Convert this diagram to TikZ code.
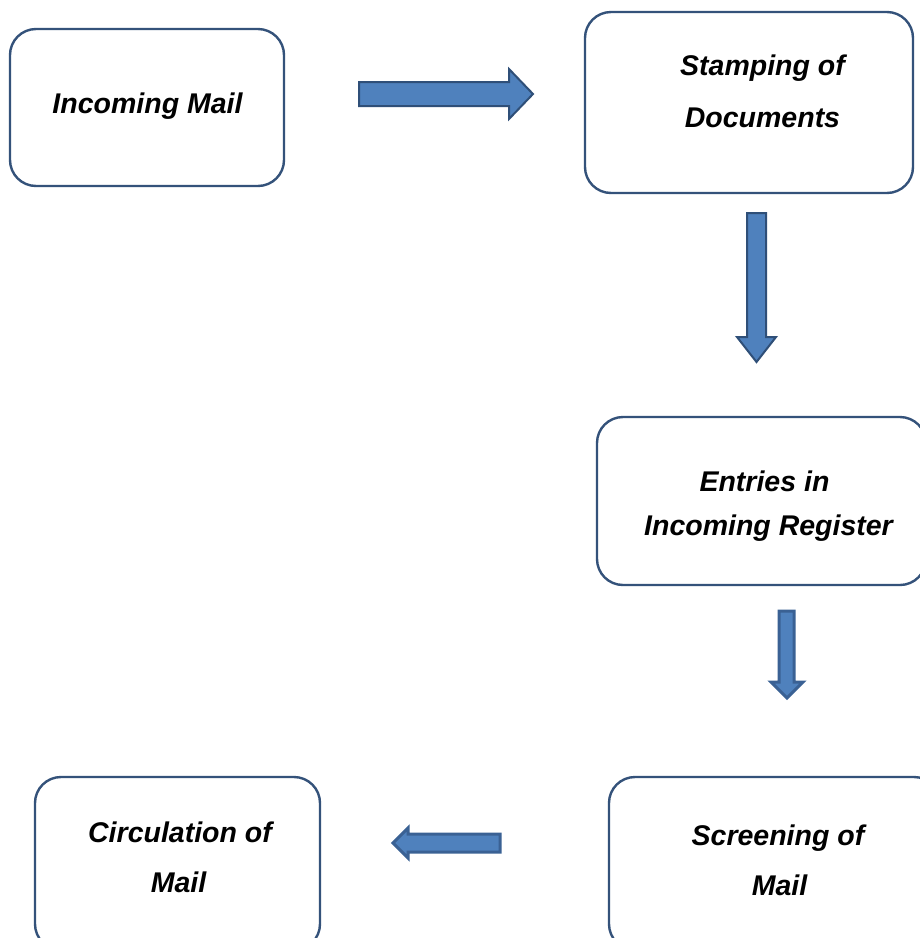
\documentclass[tikz,border=0pt]{standalone}
\usepackage{fontspec}
\setmainfont{Liberation Sans}
\begin{document}
\begin{tikzpicture}[x=1pt,y=-1pt,
  stagebox/.style={draw=boxline, line width=2.4pt, rounded corners=26pt,
    rectangle, inner sep=0pt, fill=white},
  lbl/.style={font=\fontsize{28.5}{34}\selectfont\bfseries\itshape, inner sep=0pt, anchor=base},
  blockarrow/.style={fill=arrowfill, draw=arrowline, line width=2pt, line join=miter},
  heavyarrow/.style={blockarrow, line width=3pt, draw=arrowdark}]
\definecolor{boxline}{HTML}{34527A}
\definecolor{arrowfill}{HTML}{4F81BD}
\definecolor{arrowline}{HTML}{2F4F78}
\definecolor{arrowdark}{HTML}{3A6194}

\useasboundingbox (0,0) rectangle (920,938);
\fill[white] (0,0) rectangle (920,938);

\begin{scope}
\clip (0,0) rectangle (920,938);

% process stages
\node[stagebox, minimum width=274pt, minimum height=157pt] (inmail) at (147,107.5) {};
\node[stagebox, minimum width=328pt, minimum height=181pt] (stamp) at (749,102.5) {};
\node[stagebox, minimum width=329pt, minimum height=168pt] (entries) at (761.5,501) {};
\node[stagebox, minimum width=331pt, minimum height=173pt] (screen) at (774.5,863.5) {};
\node[stagebox, minimum width=285pt, minimum height=173pt] (circ) at (177.5,863.5) {};

% stage labels
\node[lbl] (inmailA) at (147.5,113) {Incoming Mail};
\node[lbl] (stampA) at (762.5,75) {Stamping of};
\node[lbl] (stampB) at (762.5,127) {Documents};
\node[lbl] (entriesA) at (764.5,491) {Entries in};
\node[lbl] (entriesB) at (768.5,535) {Incoming Register};
\node[lbl] (screenA) at (778,845) {Screening of};
\node[lbl] (screenB) at (779.5,895) {Mail};
\node[lbl] (circA) at (180,842) {Circulation of};
\node[lbl] (circB) at (178.5,892) {Mail};

% block arrows between stages
\draw[blockarrow] (359,82) -- (509,82) -- (509,69) -- (533,94) -- (509,119)
  -- (509,106) -- (359,106) -- cycle;
\draw[blockarrow] (747,213) -- (766,213) -- (766,337) -- (776,337) -- (756.5,362)
  -- (737,337) -- (747,337) -- cycle;
\draw[heavyarrow] (779,611) -- (794,611) -- (794,682) -- (803,682) -- (787,698)
  -- (771,682) -- (779,682) -- cycle;
\draw[heavyarrow] (500,834) -- (500,852) -- (408,852) -- (408,858) -- (393,843)
  -- (408,828) -- (408,834) -- cycle;
\end{scope}
\end{tikzpicture}
\end{document}
